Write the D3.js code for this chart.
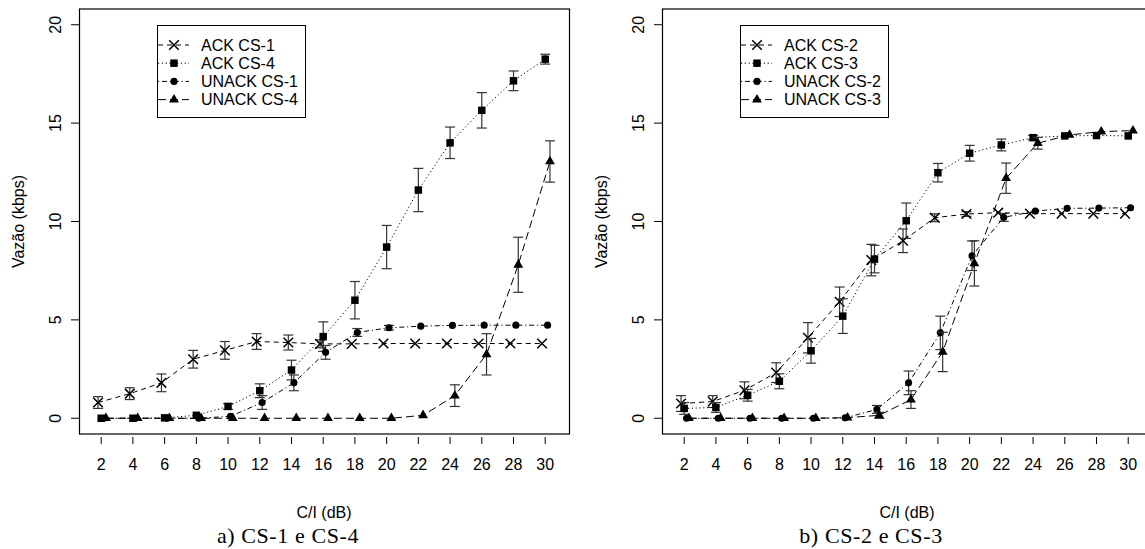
<!DOCTYPE html>
<html>

<head>
  <meta charset="utf-8">
  <style>
    body { margin: 0; background: #fff; }
    text { font-family: "Liberation Sans", Arial, sans-serif; fill: #000; }
  </style>
</head>

<body>
  <script src="https://d3js.org/d3.v7.min.js"></script>
  <script>
    // C/I values (dB) and axis ticks
    var cinr = [2, 4, 6, 8, 10, 12, 14, 16, 18, 20, 22, 24, 26, 28, 30];
    var yTicks = [0, 5, 10, 15, 20];

    // panel a) CS-1 e CS-4
    var namesA = ["ACK CS-1", "ACK CS-4", "UNACK CS-1", "UNACK CS-4"];
    var ackCs1 = [0.8, 1.25, 1.8, 3.0, 3.45, 3.9, 3.85, 3.78, 3.78, 3.8, 3.8, 3.8, 3.8, 3.8, 3.8];
    var ackCs1Err = [0.3, 0.3, 0.45, 0.45, 0.45, 0.4, 0.38, 0.2, 0.1, 0.08, 0.08, 0.08, 0.08, 0.08, 0.08];
    var ackCs4 = [0.0, 0.0, 0.02, 0.15, 0.6, 1.4, 2.45, 4.15, 6.0, 8.7, 11.6, 14.0, 15.65, 17.15, 18.25];
    var ackCs4Err = [0.05, 0.05, 0.05, 0.1, 0.15, 0.35, 0.5, 0.75, 0.95, 1.1, 1.1, 0.8, 0.9, 0.5, 0.25];
    var unackCs1 = [0, 0, 0, 0, 0.1, 0.8, 1.8, 3.35, 4.36, 4.6, 4.68, 4.72, 4.73, 4.73, 4.73];
    var unackCs1Err = [0, 0, 0, 0, 0.1, 0.35, 0.4, 0.35, 0.2, 0.12, 0.06, 0.05, 0.05, 0.05, 0.05];
    var unackCs4 = [0, 0, 0, 0, 0, 0, 0, 0, 0, 0, 0.15, 1.15, 3.25, 7.8, 13.05];
    var unackCs4Err = [0, 0, 0, 0, 0, 0, 0, 0, 0, 0, 0.05, 0.55, 1.05, 1.4, 1.05];

    // panel b) CS-2 e CS-3
    var namesB = ["ACK CS-2", "ACK CS-3", "UNACK CS-2", "UNACK CS-3"];
    var ackCs2 = [0.75, 0.85, 1.42, 2.32, 4.09, 5.92, 8.04, 9.02, 10.19, 10.38, 10.45, 10.4, 10.4, 10.4, 10.4];
    var ackCs2Err = [0.4, 0.3, 0.43, 0.5, 0.77, 0.75, 0.8, 0.6, 0.2, 0.12, 0.1, 0.1, 0.08, 0.08, 0.08];
    var ackCs3 = [0.5, 0.55, 1.17, 1.88, 3.43, 5.19, 8.09, 10.04, 12.48, 13.47, 13.89, 14.26, 14.35, 14.37, 14.35];
    var ackCs3Err = [0.3, 0.25, 0.3, 0.38, 0.63, 0.88, 0.7, 0.9, 0.47, 0.4, 0.3, 0.12, 0.1, 0.08, 0.08];
    var unackCs2 = [0, 0, 0, 0, 0, 0.02, 0.45, 1.8, 4.34, 8.26, 10.21, 10.53, 10.67, 10.68, 10.7];
    var unackCs2Err = [0, 0, 0, 0, 0, 0.02, 0.2, 0.6, 0.85, 0.75, 0.2, 0.1, 0.05, 0.05, 0.05];
    var unackCs3 = [0, 0, 0, 0, 0, 0.03, 0.15, 0.95, 3.37, 7.87, 12.2, 13.98, 14.4, 14.57, 14.62];
    var unackCs3Err = [0, 0, 0, 0, 0, 0.02, 0.15, 0.45, 1.0, 1.15, 0.77, 0.3, 0.1, 0.08, 0.05];

    // small x jitter used in the original so the series don't overlap
    var xShift = [-0.2, 0, 0.15, 0.3];

    var captions = ["a) CS-1 e CS-4", "b) CS-2 e CS-3"];

    var width = 1145,
      height = 549,
      boxW = 490,
      boxTop = 9,
      boxBottom = 434;

    var svg = d3.select("body").append("svg")
      .attr("width", width)
      .attr("height", height);

    var styles = [
      { dash: "5,4", symbol: "x" },
      { dash: "1.2,2.6", symbol: "square" },
      { dash: "1.2,2.8,5,2.8", symbol: "circle" },
      { dash: "8,4", symbol: "triangle" }
    ];

    var panels = [
      {
        left: 79, caption: captions[0], names: namesA,
        values: [ackCs1, ackCs4, unackCs1, unackCs4],
        errors: [ackCs1Err, ackCs4Err, unackCs1Err, unackCs4Err]
      },
      {
        left: 662, caption: captions[1], names: namesB,
        values: [ackCs2, ackCs3, unackCs2, unackCs3],
        errors: [ackCs2Err, ackCs3Err, unackCs2Err, unackCs3Err]
      }
    ];

    panels.forEach(drawPanel);

    function drawSymbol(g, type, cx, cy) {
      if (type == "x") {
        var s = 4.8;
        g.append("path")
          .attr("d", "M" + (cx - s) + "," + (cy - s) + "L" + (cx + s) + "," + (cy + s) +
            "M" + (cx - s) + "," + (cy + s) + "L" + (cx + s) + "," + (cy - s))
          .attr("stroke", "#000")
          .attr("stroke-width", 1.5)
          .attr("fill", "none");
        return;
      }
      var sym = type == "square" ? d3.symbolSquare : type == "circle" ? d3.symbolCircle : d3.symbolTriangle;
      var size = type == "square" ? 56 : type == "circle" ? 40 : 42;
      g.append("path")
        .attr("d", d3.symbol().type(sym).size(size)())
        .attr("transform", "translate(" + cx + "," + cy + ")")
        .attr("fill", "#000");
    }

    function drawPanel(p) {
      var x = d3.scaleLinear().domain([0.6, 31.5]).range([p.left, p.left + boxW]);
      var y = d3.scaleLinear().domain([-0.8, 20.8]).range([boxBottom, boxTop]);

      var g = svg.append("g");

      // series: error bars, dashed line, then markers
      p.values.forEach(function(vals, si) {
        var st = styles[si];
        var pts = vals.map(function(v, i) {
          return { x: cinr[i] + xShift[si], y: v, e: p.errors[si][i] };
        });

        var eb = g.append("g")
          .attr("stroke", "#333")
          .attr("stroke-width", 1.2);
        pts.forEach(function(d) {
          if (d.e < 0.12) return;
          var px = x(d.x);
          eb.append("line").attr("x1", px).attr("x2", px).attr("y1", y(d.y - d.e)).attr("y2", y(d.y + d.e));
          eb.append("line").attr("x1", px - 5).attr("x2", px + 5).attr("y1", y(d.y - d.e)).attr("y2", y(d.y - d.e));
          eb.append("line").attr("x1", px - 5).attr("x2", px + 5).attr("y1", y(d.y + d.e)).attr("y2", y(d.y + d.e));
        });

        var line = d3.line()
          .x(function(d) { return x(d.x); })
          .y(function(d) { return y(d.y); });

        g.append("path")
          .datum(pts)
          .attr("d", line)
          .attr("fill", "none")
          .attr("stroke", "#000")
          .attr("stroke-width", 1)
          .attr("stroke-dasharray", st.dash);

        pts.forEach(function(d) {
          drawSymbol(g, st.symbol, x(d.x), y(d.y));
        });
      });

      // box
      g.append("rect")
        .attr("x", p.left + 0.5)
        .attr("y", boxTop)
        .attr("width", boxW)
        .attr("height", boxBottom - boxTop)
        .attr("fill", "none")
        .attr("stroke", "#000")
        .attr("stroke-width", 1.2);

      // y axis
      yTicks.forEach(function(t) {
        g.append("line")
          .attr("x1", p.left - 8).attr("x2", p.left)
          .attr("y1", y(t)).attr("y2", y(t))
          .attr("stroke", "#000");
        g.append("text")
          .attr("transform", "translate(" + (p.left - 24) + "," + y(t) + ") rotate(-90)")
          .attr("text-anchor", "middle")
          .attr("dominant-baseline", "central")
          .attr("font-size", 16)
          .text(t);
      });

      g.append("text")
        .attr("transform", "translate(" + (p.left - 61) + "," + ((boxTop + boxBottom) / 2) + ") rotate(-90)")
        .attr("text-anchor", "middle")
        .attr("dominant-baseline", "central")
        .attr("font-size", 16)
        .text("Vazão (kbps)");

      // x axis
      cinr.forEach(function(t) {
        g.append("line")
          .attr("x1", x(t)).attr("x2", x(t))
          .attr("y1", 437).attr("y2", 444)
          .attr("stroke", "#000");
        g.append("text")
          .attr("x", x(t))
          .attr("y", 464)
          .attr("text-anchor", "middle")
          .attr("dominant-baseline", "central")
          .attr("font-size", 16)
          .text(t);
      });

      g.append("text")
        .attr("x", p.left + boxW / 2)
        .attr("y", 512)
        .attr("text-anchor", "middle")
        .attr("dominant-baseline", "central")
        .attr("font-size", 16)
        .text("C/I (dB)");

      g.append("text")
        .attr("x", p.left + 209)
        .attr("y", 543)
        .attr("text-anchor", "middle")
        .attr("font-size", 22)
        .attr("letter-spacing", 0.6)
        .style("font-family", "'Liberation Serif', 'Times New Roman', serif")
        .text(p.caption);

      // legend
      var lx = p.left + 78,
        ly = 25;
      var leg = g.append("g");
      leg.append("rect")
        .attr("x", lx + 0.5).attr("y", ly + 0.5)
        .attr("width", 148).attr("height", 92)
        .attr("fill", "#fff")
        .attr("stroke", "#000");
      p.names.forEach(function(name, i) {
        var ry = ly + 20 + i * 18.2;
        leg.append("line")
          .attr("x1", lx + 1).attr("x2", lx + 32)
          .attr("y1", ry).attr("y2", ry)
          .attr("stroke", "#000")
          .attr("stroke-dasharray", styles[i].dash);
        drawSymbol(leg, styles[i].symbol, lx + 17, ry);
        leg.append("text")
          .attr("x", lx + 44)
          .attr("y", ry)
          .attr("dominant-baseline", "central")
          .attr("font-size", 16)
          .text(name);
      });
    }
  </script>
</body>

</html>
